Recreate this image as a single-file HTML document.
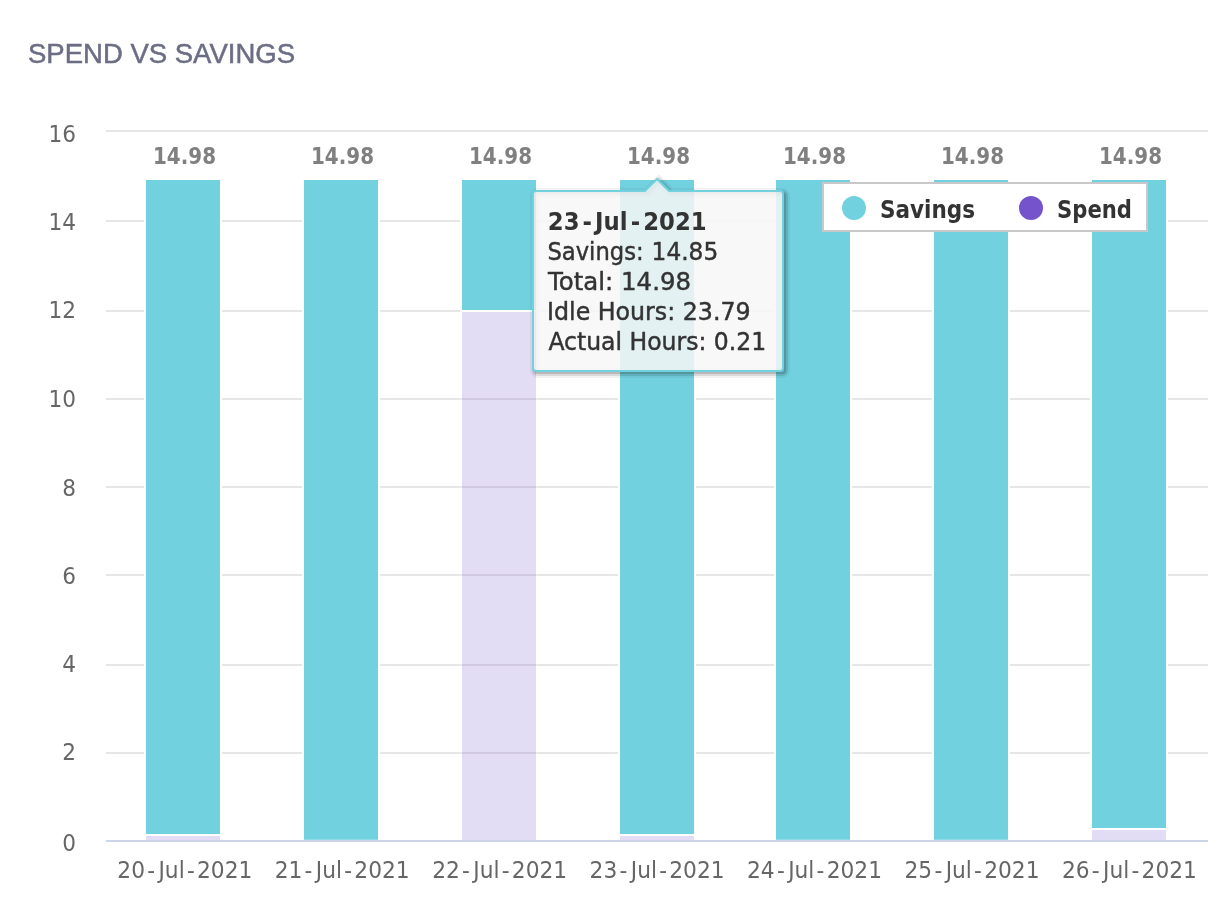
<!DOCTYPE html>
<html lang="en">
<head>
<meta charset="utf-8">
<title>Spend vs Savings</title>
<style>
html,body{margin:0;padding:0;background:#fff;}
body{width:1220px;height:908px;overflow:hidden;}
svg{display:block;}
svg text{font-family:'DejaVu Sans', 'Liberation Sans', sans-serif;}
svg text.ttl{font-family:"Liberation Sans", sans-serif;}
</style>
</head>
<body>
<svg width="1220" height="908" viewBox="0 0 1220 908">
<rect width="1220" height="908" fill="#ffffff"/>
<!-- title -->
<text class="ttl" x="28" y="63" font-size="27" fill="#6b6d85" stroke="#6b6d85" stroke-width="0.5" textLength="267" lengthAdjust="spacingAndGlyphs">SPEND VS SAVINGS</text>
<!-- grid -->
<g stroke="#e6e6e6" stroke-width="2">
<line x1="106" x2="1208" y1="131" y2="131"/>
<line x1="106" x2="1208" y1="221" y2="221"/>
<line x1="106" x2="1208" y1="311" y2="311"/>
<line x1="106" x2="1208" y1="399" y2="399"/>
<line x1="106" x2="1208" y1="487" y2="487"/>
<line x1="106" x2="1208" y1="575" y2="575"/>
<line x1="106" x2="1208" y1="665" y2="665"/>
<line x1="106" x2="1208" y1="753" y2="753"/>
</g>
<line x1="106" x2="1208" y1="841" y2="841" stroke="#ccd6eb" stroke-width="2"/>
<!-- series: Savings -->
<clipPath id="plot"><rect x="106" y="130" width="1102" height="710"/></clipPath>
<g fill="#72d1df" stroke="#ffffff" stroke-width="2" clip-path="url(#plot)">
<rect x="145" y="179" width="76" height="656"/>
<rect x="303" y="179" width="76" height="662"/>
<rect x="461" y="179" width="76" height="132"/>
<rect x="619" y="179" width="76" height="656"/>
<rect x="775" y="179" width="76" height="662"/>
<rect x="933" y="179" width="76" height="662"/>
<rect x="1091" y="179" width="76" height="650"/>
</g>
<!-- series: Spend (dimmed) -->
<g fill="#7553cc" stroke="#ffffff" stroke-width="2" opacity="0.2" clip-path="url(#plot)">
<rect x="145" y="835" width="76" height="6"/>
<rect x="303" y="840" width="76" height="0.01"/>
<rect x="461" y="311" width="76" height="530"/>
<rect x="619" y="835" width="76" height="6"/>
<rect x="775" y="840" width="76" height="0.01"/>
<rect x="933" y="840" width="76" height="0.01"/>
<rect x="1091" y="829" width="76" height="12"/>
</g>
<!-- stack labels -->
<g font-size="23.6" font-weight="bold" fill="#808080" text-anchor="middle">
<text x="184.5" y="164" textLength="63" lengthAdjust="spacingAndGlyphs">14.98</text>
<text x="342.5" y="164" textLength="63" lengthAdjust="spacingAndGlyphs">14.98</text>
<text x="500.5" y="164" textLength="63" lengthAdjust="spacingAndGlyphs">14.98</text>
<text x="658.5" y="164" textLength="63" lengthAdjust="spacingAndGlyphs">14.98</text>
<text x="814.5" y="164" textLength="63" lengthAdjust="spacingAndGlyphs">14.98</text>
<text x="972.5" y="164" textLength="63" lengthAdjust="spacingAndGlyphs">14.98</text>
<text x="1130.5" y="164" textLength="63" lengthAdjust="spacingAndGlyphs">14.98</text>
</g>
<!-- x axis labels -->
<g font-size="22.5" fill="#666666" text-anchor="middle">
<text x="184.8" y="878" dx="0 0 2.3 2.3 0 0 2.3 2.3 0 0 0" textLength="135" lengthAdjust="spacingAndGlyphs">20-Jul-2021</text>
<text x="342.2" y="878" dx="0 0 2.3 2.3 0 0 2.3 2.3 0 0 0" textLength="135" lengthAdjust="spacingAndGlyphs">21-Jul-2021</text>
<text x="499.7" y="878" dx="0 0 2.3 2.3 0 0 2.3 2.3 0 0 0" textLength="135" lengthAdjust="spacingAndGlyphs">22-Jul-2021</text>
<text x="657.1" y="878" dx="0 0 2.3 2.3 0 0 2.3 2.3 0 0 0" textLength="135" lengthAdjust="spacingAndGlyphs">23-Jul-2021</text>
<text x="814.5" y="878" dx="0 0 2.3 2.3 0 0 2.3 2.3 0 0 0" textLength="135" lengthAdjust="spacingAndGlyphs">24-Jul-2021</text>
<text x="972.0" y="878" dx="0 0 2.3 2.3 0 0 2.3 2.3 0 0 0" textLength="135" lengthAdjust="spacingAndGlyphs">25-Jul-2021</text>
<text x="1129.4" y="878" dx="0 0 2.3 2.3 0 0 2.3 2.3 0 0 0" textLength="135" lengthAdjust="spacingAndGlyphs">26-Jul-2021</text>
</g>
<!-- y axis labels -->
<g font-size="23" fill="#666666" text-anchor="end">
<text x="76" y="142" textLength="27.5" lengthAdjust="spacingAndGlyphs">16</text>
<text x="76" y="230" textLength="27.5" lengthAdjust="spacingAndGlyphs">14</text>
<text x="76" y="318" textLength="27.5" lengthAdjust="spacingAndGlyphs">12</text>
<text x="76" y="406.5" textLength="27.5" lengthAdjust="spacingAndGlyphs">10</text>
<text x="76" y="495.5" textLength="13.75" lengthAdjust="spacingAndGlyphs">8</text>
<text x="76" y="583.5" textLength="13.75" lengthAdjust="spacingAndGlyphs">6</text>
<text x="76" y="671.5" textLength="13.75" lengthAdjust="spacingAndGlyphs">4</text>
<text x="76" y="759.5" textLength="13.75" lengthAdjust="spacingAndGlyphs">2</text>
<text x="76" y="850.5" textLength="13.75" lengthAdjust="spacingAndGlyphs">0</text>
</g>
<!-- legend -->
<g>
<rect x="823" y="183" width="324" height="48" fill="#ffffff" stroke="#c8c8c8" stroke-width="2"/>
<circle cx="854" cy="208" r="12" fill="#72d1df"/>
<text x="880" y="218" font-size="24" font-weight="bold" fill="#333333" textLength="95" lengthAdjust="spacingAndGlyphs">Savings</text>
<circle cx="1031" cy="208" r="12" fill="#7553cc"/>
<text x="1057" y="218" font-size="24" font-weight="bold" fill="#333333" textLength="75" lengthAdjust="spacingAndGlyphs">Spend</text>
</g>
<!-- tooltip -->
<g>
<g fill="none" stroke="#000000" transform="translate(2,2)">
<path d="M536,191 H645 L657,179 L669,191 H780 a3,3 0 0 1 3,3 V368 a3,3 0 0 1 -3,3 H536 a3,3 0 0 1 -3,-3 V194 a3,3 0 0 1 3,-3 Z" stroke-opacity="0.05" stroke-width="10"/>
<path d="M536,191 H645 L657,179 L669,191 H780 a3,3 0 0 1 3,3 V368 a3,3 0 0 1 -3,3 H536 a3,3 0 0 1 -3,-3 V194 a3,3 0 0 1 3,-3 Z" stroke-opacity="0.1" stroke-width="6"/>
<path d="M536,191 H645 L657,179 L669,191 H780 a3,3 0 0 1 3,3 V368 a3,3 0 0 1 -3,3 H536 a3,3 0 0 1 -3,-3 V194 a3,3 0 0 1 3,-3 Z" stroke-opacity="0.15" stroke-width="2"/>
</g>
<path d="M536,191 H645 L657,179 L669,191 H780 a3,3 0 0 1 3,3 V368 a3,3 0 0 1 -3,3 H536 a3,3 0 0 1 -3,-3 V194 a3,3 0 0 1 3,-3 Z" fill="rgba(247,247,247,0.85)" stroke="#72d1df" stroke-width="2"/>
<g font-size="24" fill="#333333" stroke="#333333" stroke-width="0.45" stroke-linejoin="round">
<text x="547.8" y="230" font-weight="bold" stroke="none" dx="0 0 3.2 3.2 0 0 3.2 3.2 0 0 0" textLength="158.8" lengthAdjust="spacingAndGlyphs">23-Jul-2021</text>
<text y="260"><tspan x="547.4" textLength="103.4" lengthAdjust="spacingAndGlyphs">Savings: </tspan><tspan x="651.6" textLength="66.6" lengthAdjust="spacingAndGlyphs">14.85</tspan></text>
<text x="548" y="290" textLength="143" lengthAdjust="spacingAndGlyphs">Total: 14.98</text>
<text x="547" y="320" textLength="203.6" lengthAdjust="spacingAndGlyphs">Idle Hours: 23.79</text>
<text x="548.4" y="350" textLength="217.8" lengthAdjust="spacingAndGlyphs">Actual Hours: 0.21</text>
</g>
</g>
</svg>
</body>
</html>
